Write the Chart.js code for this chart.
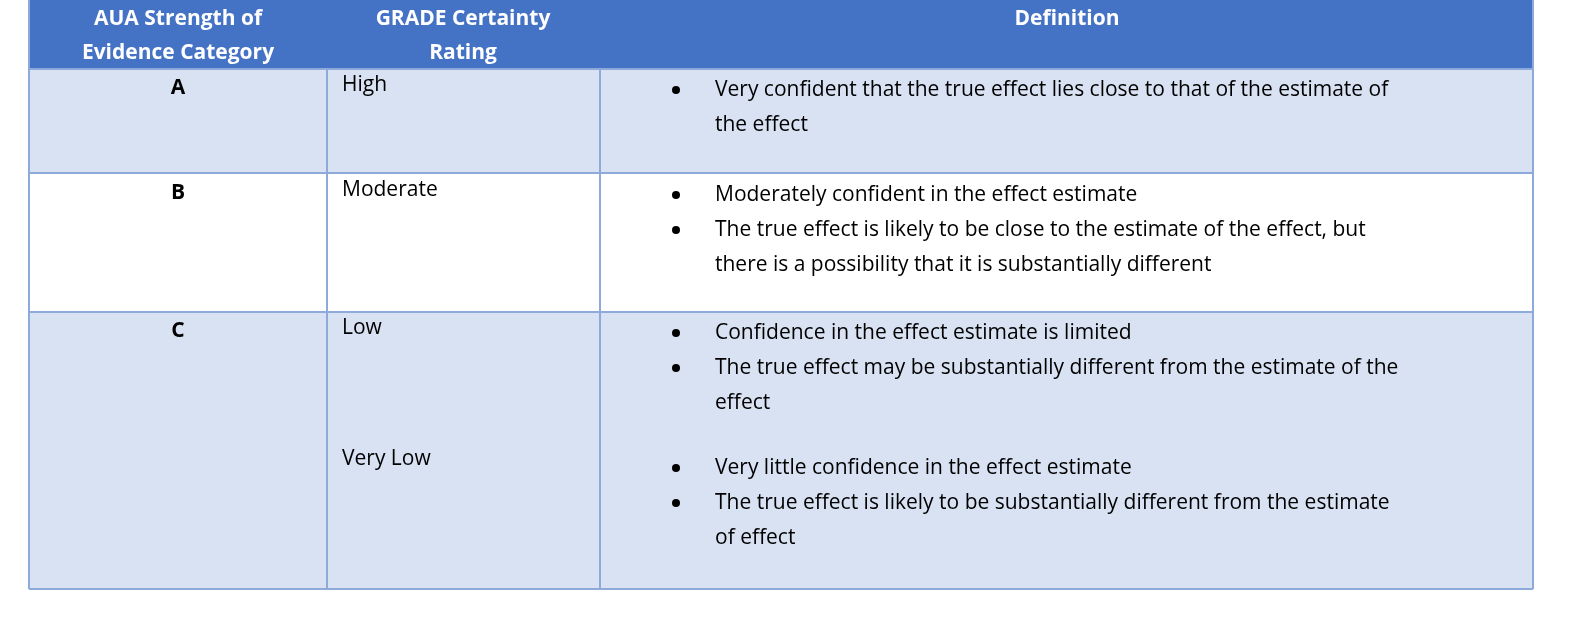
<!DOCTYPE html>
<html>
<head>
<meta charset="utf-8">
<script src="https://cdn.jsdelivr.net/npm/chart.js@4"></script>
<style>
  body { margin: 0; background: #fff; }
</style>
</head>
<body>
<canvas id="tbl" width="1577" height="623"></canvas>
<script>
// table content
var headers = [['AUA Strength of', 'Evidence Category'], ['GRADE Certainty', 'Rating'], ['Definition']];
var categories = ['A', 'B', 'C'];
var ratings = [['High'], ['Moderate'], ['Low', 'Very Low']];
var definitions = [
    [[['Very confident that the true effect lies close to that of the estimate of', 'the effect']]],
    [[['Moderately confident in the effect estimate'],
      ['The true effect is likely to be close to the estimate of the effect, but', 'there is a possibility that it is substantially different']]],
    [[['Confidence in the effect estimate is limited'],
      ['The true effect may be substantially different from the estimate of the', 'effect']],
     [['Very little confidence in the effect estimate'],
      ['The true effect is likely to be substantially different from the estimate', 'of effect']]]
];

// layout (in scale units = page pixels)
var colEdges = [29, 327, 600, 1533];
var rowEdges = [0, 69, 173, 312, 589];
var rowFills = ['#4472c4', '#d9e2f3', '#ffffff', '#d9e2f3'];
var lineH = 35;

var tablePlugin = {
    id: 'tablePlugin',
    beforeDraw: function (chart) {
        var ctx = chart.ctx, sx = chart.scales.x, sy = chart.scales.y;
        var X = function (v) { return sx.getPixelForValue(v); };
        var Y = function (v) { return sy.getPixelForValue(v); };
        ctx.save();
        // row fills
        for (var r = 0; r < 4; r++) {
            ctx.fillStyle = rowFills[r];
            ctx.fillRect(X(colEdges[0]), Y(rowEdges[r]), X(colEdges[3]) - X(colEdges[0]), Y(rowEdges[r + 1]) - Y(rowEdges[r]));
        }
        // grid lines
        ctx.strokeStyle = '#8eaadb';
        ctx.lineWidth = 2;
        for (var i = 1; i < rowEdges.length; i++) {
            ctx.beginPath();
            ctx.moveTo(X(colEdges[0]), Y(rowEdges[i]));
            ctx.lineTo(X(colEdges[3]), Y(rowEdges[i]));
            ctx.stroke();
        }
        colEdges.forEach(function (c, j) {
            ctx.beginPath();
            ctx.moveTo(X(c), Y(j === 0 || j === 3 ? rowEdges[0] : rowEdges[1]));
            ctx.lineTo(X(c), Y(rowEdges[4]));
            ctx.stroke();
        });
        ctx.textBaseline = 'middle';
        // header
        ctx.fillStyle = '#ffffff';
        ctx.font = 'bold 21px "Open Sans", sans-serif';
        ctx.textAlign = 'center';
        var hx = [178, 463, 1067];
        headers.forEach(function (h, j) {
            h.forEach(function (t, k) { ctx.fillText(t, X(hx[j]), Y(19 + k * 34)); });
        });
        // body
        var rowTop = [88, 193, 331];
        categories.forEach(function (cat, r) {
            ctx.fillStyle = '#000000';
            ctx.font = 'bold 21px "Open Sans", sans-serif';
            ctx.textAlign = 'center';
            ctx.fillText(cat, X(178), Y(rowTop[r]));
            ctx.font = '21px "Open Sans", sans-serif';
            ctx.textAlign = 'left';
            var y = rowTop[r];
            definitions[r].forEach(function (group, g) {
                if (g > 0) y += 30;
                ctx.fillText(ratings[r][g], X(342), Y(y - 3 + (g > 0 ? -4 : 0)));
                group.forEach(function (bullet) {
                    ctx.beginPath();
                    ctx.arc(X(676), Y(y + 2), 4, 0, Math.PI * 2);
                    ctx.fill();
                    bullet.forEach(function (line) {
                        ctx.fillText(line, X(715), Y(y + 2));
                        y += lineH;
                    });
                });
            });
        });
        ctx.restore();
    }
};

new Chart(document.getElementById('tbl').getContext('2d'), {
    type: 'scatter',
    data: { datasets: [{ data: [] }] },
    options: {
        responsive: false,
        animation: false,
        layout: { padding: 0 },
        plugins: { legend: { display: false }, tooltip: { enabled: false } },
        scales: {
            x: { type: 'linear', min: 0, max: 1577, display: false },
            y: { type: 'linear', min: 0, max: 623, reverse: true, display: false }
        }
    },
    plugins: [tablePlugin]
});
</script>
</body>
</html>
